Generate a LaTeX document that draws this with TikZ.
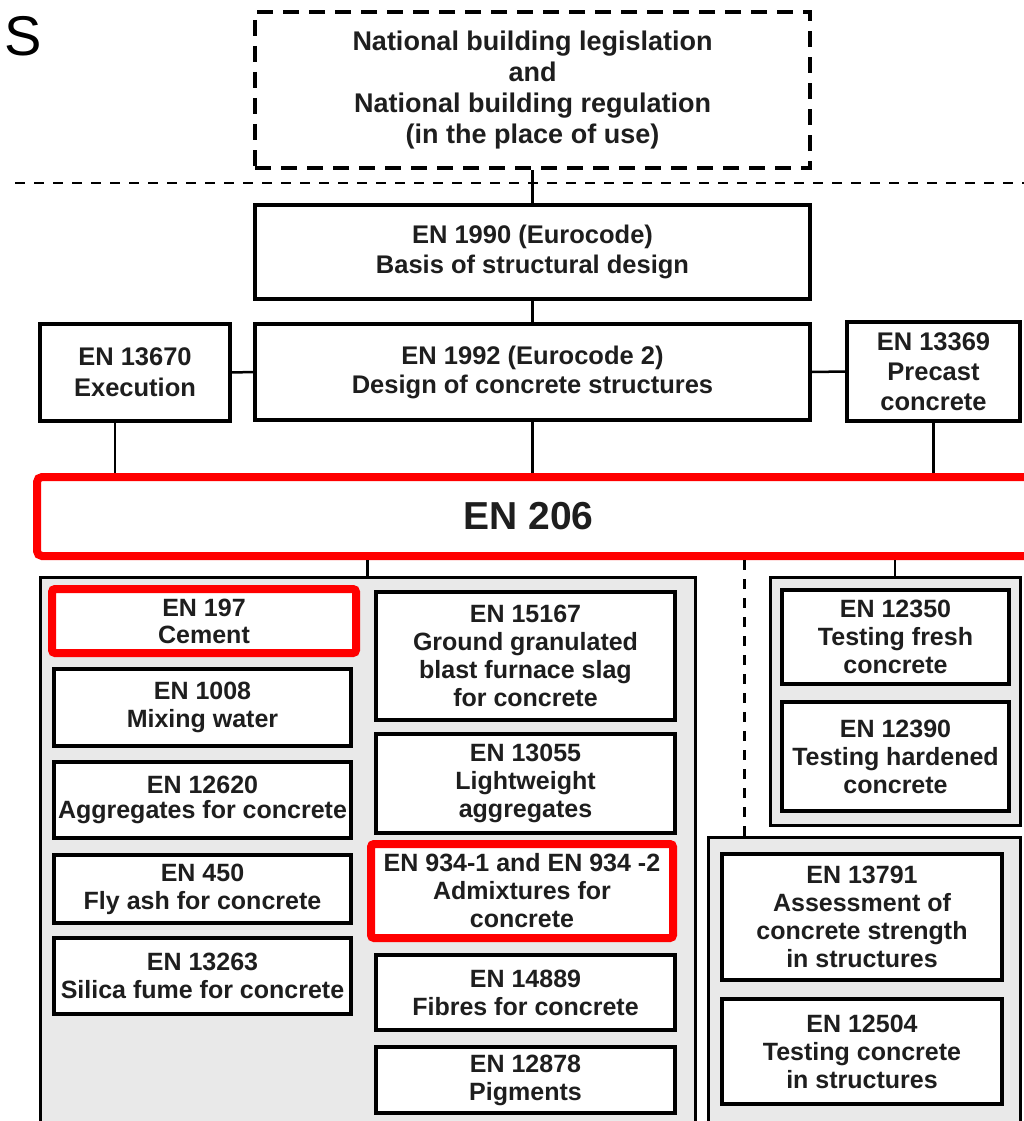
\documentclass[tikz,border=0pt]{standalone}
\usepackage{fontspec}
\setmainfont{Liberation Sans}
\usepackage{tikz}

\definecolor{groupgray}{HTML}{E9E9E9}
\definecolor{stdred}{HTML}{FF0000}
\definecolor{inkgray}{HTML}{1E1E1E}

\begin{document}
\begin{tikzpicture}[x=1pt,y=-1pt,
  stdbox/.style={draw=black, line width=3.5pt, fill=white, text=inkgray,
    align=center, inner sep=0pt, font=\bfseries\fontsize{25}{28}\selectfont},
  keybox/.style={stdbox, draw=stdred, line width=8pt, rounded corners=3pt},
  group/.style={draw=black, line width=3pt, fill=groupgray, inner sep=0pt},
  link/.style={line width=2.5pt}]
\useasboundingbox (0,0) rectangle (1024,1121);
% label in the corner:
\node[anchor=base west, inner sep=0pt, font=\fontsize{56}{60}\selectfont] (lbl) at (4,56) {S};
% national level:
\node[stdbox, dash pattern=on 16pt off 10pt, line width=4pt, minimum width=555pt, minimum height=156pt,
  font=\bfseries\fontsize{27}{31}\selectfont] (natl) at (532.5,90)
  {National building legislation\\and\\National building regulation\\(in the place of use)};
\draw[line width=2pt, dash pattern=on 10pt off 9pt] (15,183) -- (1024,183);
% design codes:
\node[stdbox, minimum width=555pt, minimum height=94pt, font=\bfseries\fontsize{25.5}{30}\selectfont] (en1990) at (532.5,252)
  {EN 1990 (Eurocode)\\Basis of structural design};
\node[stdbox, minimum width=190pt, minimum height=97pt, font=\bfseries\fontsize{25.5}{31}\selectfont] (en13670) at (135,372.5)
  {EN 13670\\Execution};
\node[stdbox, minimum width=555pt, minimum height=96pt, font=\bfseries\fontsize{25.5}{29}\selectfont] (en1992) at (532.5,372)
  {EN 1992 (Eurocode 2)\\Design of concrete structures};
\node[stdbox, minimum width=173pt, minimum height=99pt, font=\bfseries\fontsize{25.5}{30}\selectfont] (en13369) at (933.5,371.5)
  {EN 13369\\Precast\\concrete};
\node[keybox, rounded corners=5pt, minimum width=993pt, minimum height=79pt, font=\bfseries\fontsize{39}{42}\selectfont] (en206) at (533.5,516.5)
  {\hspace*{-10pt}EN 206};
% groups under EN 206:
\node[group, minimum width=655pt, minimum height=563pt] (grpmat) at (367.5,858.5) {};
\node[group, minimum width=250pt, minimum height=248pt] (grptest) at (895,701) {};
\node[group, minimum width=312pt, minimum height=303pt] (grpstrc) at (864,988.5) {};
% constituents, first column:
\node[keybox, minimum width=304pt, minimum height=64pt, font=\bfseries\fontsize{25}{27}\selectfont] (en197) at (204,621)
  {EN 197\\Cement};
\node[stdbox, minimum width=297pt, minimum height=77pt] (en1008) at (202.5,707.5) {EN 1008\\Mixing water};
\node[stdbox, minimum width=297pt, minimum height=76pt, font=\bfseries\fontsize{25}{25}\selectfont] (en12620) at (202.5,800)
  {EN 12620\\Aggregates for concrete};
\node[stdbox, minimum width=297pt, minimum height=68pt] (en450) at (202.5,889) {EN 450\\Fly ash for concrete};
\node[stdbox, minimum width=297pt, minimum height=76pt] (en13263) at (202.5,976) {EN 13263\\Silica fume for concrete};
% constituents, second column:
\node[stdbox, minimum width=299pt, minimum height=128pt] (en15167) at (525.5,656)
  {EN 15167\\Ground granulated\\blast furnace slag\\for concrete};
\node[stdbox, minimum width=299pt, minimum height=99pt] (en13055) at (525.5,783.5) {EN 13055\\Lightweight\\aggregates};
\node[keybox, minimum width=302pt, minimum height=94pt] (en934) at (522,891) {EN 934-1 and EN 934 -2\\Admixtures for\\concrete};
\node[stdbox, minimum width=299pt, minimum height=75pt] (en14889) at (525.5,992.5) {EN 14889\\Fibres for concrete};
\node[stdbox, minimum width=299pt, minimum height=66pt] (en12878) at (525.5,1080) {EN 12878\\Pigments};
% testing:
\node[stdbox, minimum width=227pt, minimum height=94pt] (en12350) at (895.5,637) {EN 12350\\Testing fresh\\concrete};
\node[stdbox, minimum width=227pt, minimum height=109pt] (en12390) at (895.5,756.5) {EN 12390\\Testing hardened\\concrete};
\node[stdbox, minimum width=280pt, minimum height=126pt] (en13791) at (862,917)
  {EN 13791\\Assessment of\\concrete strength\\in structures};
\node[stdbox, minimum width=280pt, minimum height=105pt] (en12504) at (862,1051.5) {EN 12504\\Testing concrete\\in structures};
% connectors:
\draw[link] (natl.south) -- (en1990.north);
\draw[link] (en1990.south) -- (en1992.north);
\draw[link] (en13670.east) -- (en1992.west);
\draw[link] (en1992.east) -- (en13369.west);
\draw[link] ([xshift=-20pt]en13670.south) -- ([xshift=-20pt]en13670.south |- en206.north);
\draw[link] (en1992.south) -- (en1992.south |- en206.north);
\draw[link] (en13369.south) -- (en13369.south |- en206.north);
\draw[link] (grpmat.north |- en206.south) -- (grpmat.north);
\draw[link] (grptest.north |- en206.south) -- (grptest.north);
\draw[link, dash pattern=on 10pt off 9pt] ([xshift=38pt]grpstrc.north west |- en206.south) -- ([xshift=38pt]grpstrc.north west);
\end{tikzpicture}
\end{document}
